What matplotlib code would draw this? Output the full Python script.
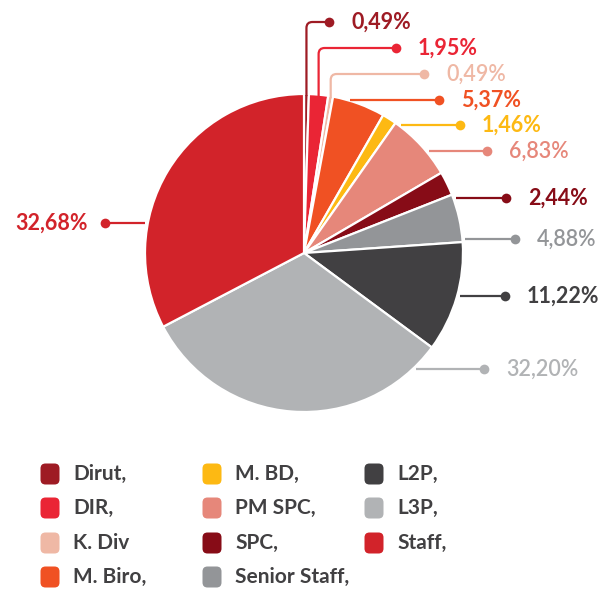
import numpy as np
import matplotlib
matplotlib.use('Agg')
import matplotlib.pyplot as plt
from matplotlib.path import Path
from matplotlib.patches import PathPatch, FancyBboxPatch

plt.rcParams['font.family'] = ['Lato', 'DejaVu Sans']

# data
categories = ['Dirut,', 'DIR,', 'K. Div', 'M. Biro,', 'M. BD,', 'PM SPC,', 'SPC,',
              'Senior Staff,', 'L2P,', 'L3P,', 'Staff,']
shares = [0.49, 1.95, 0.49, 5.37, 1.46, 6.83, 2.44, 4.88, 11.22, 32.20, 32.68]
colors = ['#9e1b24', '#ea2535', '#efb8a5', '#f05123', '#fdb913', '#e6877a',
          '#870c17', '#939598', '#414042', '#b1b3b5', '#d2232a']
light = {'K. Div', 'PM SPC,', 'Senior Staff,', 'L3P,'}

# layout (pixels, y downwards)
W, H = 603, 592
cx, cy, R = 304, 253, 159
label_y = [22, 48, 74, 100, 125, 151, 198, 239, 296, 369, 223]
dot_x = [329, 396, 424, 439, 460, 487, 506, 515, 505, 484, 105]
vertical = [True, True, True] + [False] * 8

fig = plt.figure(figsize=(W / 100, H / 100), dpi=100)
ax = fig.add_axes([0, 0, 1, 1])

ax.pie(shares, colors=colors, startangle=-90, counterclock=True,
       center=(cx, cy), radius=R,
       wedgeprops=dict(edgecolor='white', linewidth=1.6))
ax.set_xlim(0, W)
ax.set_ylim(H, 0)
ax.set_aspect('equal')
ax.axis('off')

cum = np.cumsum([0] + shares)
for i, (name, val) in enumerate(zip(categories, shares)):
    col = colors[i]
    y = label_y[i]
    xd = dot_x[i]
    if vertical[i]:
        ang = np.deg2rad((cum[i] + val / 2) * 3.6)
        x0 = cx + R * np.sin(ang)
        y0 = cy - R * np.cos(ang) + 2
        rr = 6
        verts = [(x0, y0), (x0, y + rr), (x0, y), (x0 + rr, y), (xd, y)]
        codes = [Path.MOVETO, Path.LINETO, Path.CURVE3, Path.CURVE3, Path.LINETO]
        ax.add_patch(PathPatch(Path(verts, codes), fill=False, edgecolor=col,
                               lw=1.6, capstyle='butt'))
    else:
        dx = np.sqrt(R ** 2 - (y - cy) ** 2) + 3
        x0 = cx - dx if xd < cx else cx + dx
        ax.plot([x0, xd], [y, y], color=col, lw=1.6, solid_capstyle='butt')
    ax.plot(xd, y, 'o', color=col, ms=7, mec='none')
    txt = f'{val:.2f}%'.replace('.', ',')
    weight = 'semibold' if name in light else 'bold'
    if xd < cx:
        ax.text(xd - 17, y, txt, color=col, fontsize=15.5, fontweight=weight,
                ha='right', va='center')
    else:
        ax.text(xd + 22, y, txt, color=col, fontsize=15.5, fontweight=weight,
                ha='left', va='center')

# legend
col_x = [50, 212, 374]
row_y = [474, 508, 543, 577]
for i, name in enumerate(categories):
    c, r = divmod(i, 4)
    mx, my = col_x[c], row_y[r]
    ax.add_patch(FancyBboxPatch((mx - 6, my - 7), 12, 14,
                                boxstyle='round,pad=3.5,rounding_size=5',
                                facecolor=colors[i], edgecolor='none'))
    ax.text(mx + 23, my, name, color='#414042', fontsize=15,
            fontweight='bold', ha='left', va='center')

fig.savefig('out.png', dpi=100, facecolor='white')
